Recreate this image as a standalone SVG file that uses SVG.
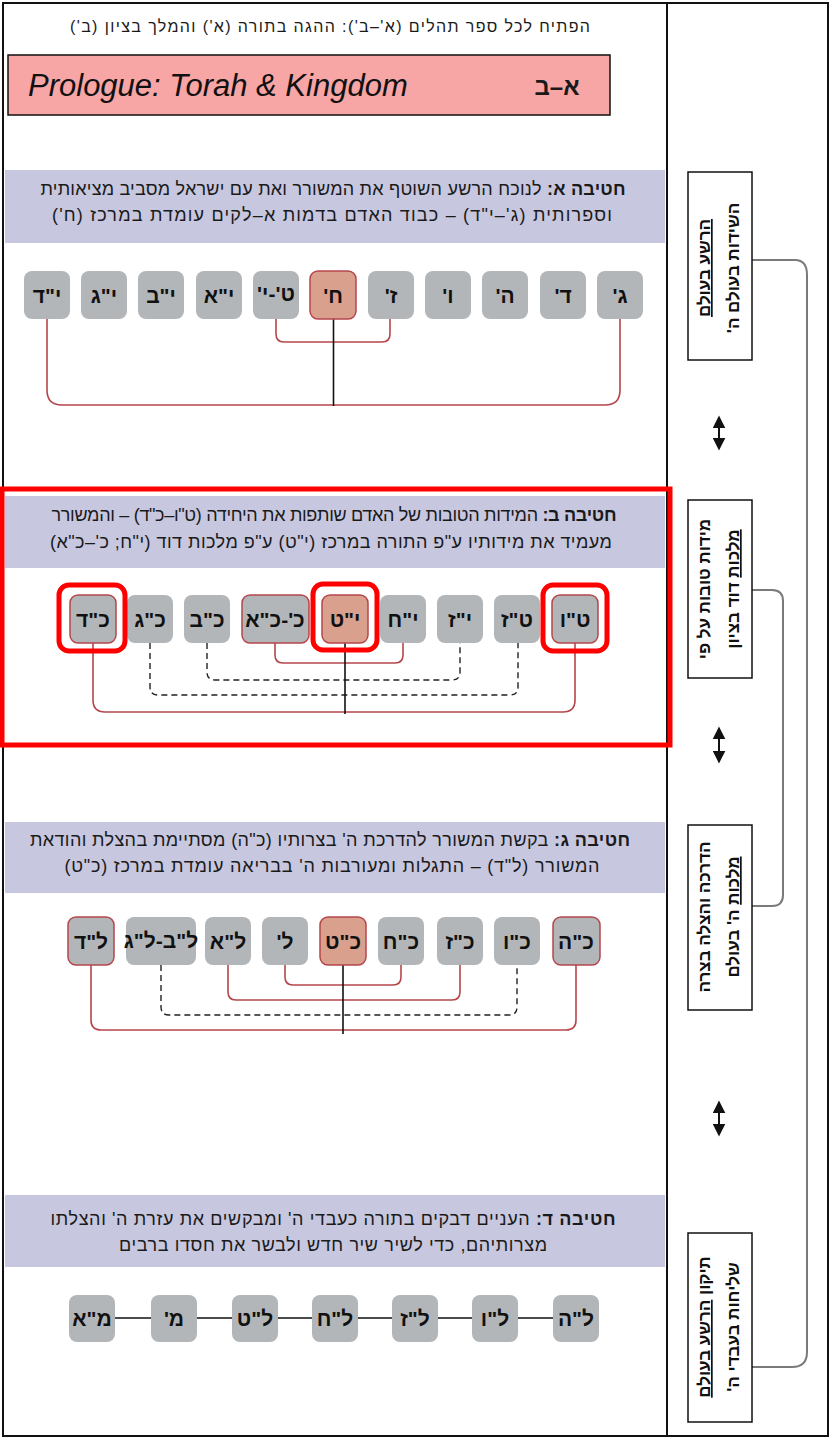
<svg xmlns="http://www.w3.org/2000/svg" width="832" height="1440" viewBox="0 0 832 1440">
<defs>
<style>
.he{font-family:"Liberation Sans","DejaVu Sans",sans-serif;direction:rtl;text-anchor:middle;fill:#1a1a1a}
.hd{font-size:18px}
.nd rect{fill:#b3b6b9;rx:8px}
.nd text{font-family:"Liberation Sans","DejaVu Sans",sans-serif;font-weight:bold;font-size:21px;text-anchor:middle;direction:rtl;fill:#111}
.hl rect{fill:#d8a08d;stroke:#b5464b;stroke-width:1.5}
.rs rect{stroke:#b5464b;stroke-width:1.5}
.band{fill:#c7c7df}
.red{fill:none;stroke:#b5464b;stroke-width:1.6}
.dash{fill:none;stroke:#222;stroke-width:1.4;stroke-dasharray:6 4}
.blk{fill:none;stroke:#111;stroke-width:1.6}
.gry{fill:none;stroke:#7a7a7a;stroke-width:2}
.mark{fill:none;stroke:#ff0000;stroke-width:5}
.side rect{fill:#fff;stroke:#111;stroke-width:1.5}
.side text{font-family:"Liberation Sans","DejaVu Sans",sans-serif;font-weight:bold;font-size:17px;text-anchor:middle;direction:rtl;fill:#111}
.dbl{stroke:#111;stroke-width:2}
</style>
<marker id="ah" viewBox="0 0 10 10" refX="8" refY="5" markerWidth="6.5" markerHeight="6.5" orient="auto-start-reverse">
<path d="M0,0 L10,5 L0,10 z" fill="#111"/>
</marker>
</defs>
<rect x="0" y="0" width="832" height="1440" fill="#fff"/>
<rect x="3" y="3" width="825" height="1433" fill="none" stroke="#111" stroke-width="2"/>
<line x1="667" y1="3" x2="667" y2="1436" stroke="#111" stroke-width="2"/>

<g id="header">
<text class="he" x="330" y="32" font-size="16" textLength="520" lengthAdjust="spacing">הפתיח לכל ספר תהלים (א'–ב'): ההגה בתורה (א') והמלך בציון (ב')</text>
</g>
<g id="prologue">
<rect x="8" y="55" width="602" height="60" fill="#f8a5a5" stroke="#111" stroke-width="1.5"/>
<text x="28" y="96" font-family="Liberation Sans, Arial, sans-serif" font-style="italic" font-size="31" fill="#111">Prologue: Torah &amp; Kingdom</text>
<text class="he" x="557" y="95" font-size="24" font-weight="bold" fill="#3a1010">א–ב</text>
</g>

<!-- Section A -->
<g id="sectionA-header">
<rect class="band" x="5" y="170" width="660" height="73"/>
<text class="he hd" x="333" y="195" textLength="585" lengthAdjust="spacing"><tspan font-weight="bold">חטיבה א:</tspan> לנוכח הרשע השוטף את המשורר ואת עם ישראל מסביב מציאותית</text>
<text class="he hd" x="332" y="221" textLength="560" lengthAdjust="spacing">וספרותית (ג'–י"ד) – כבוד האדם בדמות א–לקים עומדת במרכז (ח')</text>
</g>
<g id="A-connectors">
<path class="red" d="M276,319 V334 Q276,342 284,342 H382 Q390,342 390,334 V319"/>
<path class="red" d="M47,319 V390 Q47,405 62,405 H605 Q620,405 620,390 V319"/>
<path class="blk" d="M333.5,319 V406"/>
</g>
<g id="A-nodes">
<g id="nA3" class="nd"><rect x="597" y="271" width="46" height="48"/><text x="620" y="303">ג'</text></g>
<g id="nA4" class="nd"><rect x="540" y="271" width="46" height="48"/><text x="563" y="303">ד'</text></g>
<g id="nA5" class="nd"><rect x="482" y="271" width="46" height="48"/><text x="505" y="303">ה'</text></g>
<g id="nA6" class="nd"><rect x="425" y="271" width="46" height="48"/><text x="448" y="303">ו'</text></g>
<g id="nA7" class="nd"><rect x="368" y="271" width="46" height="48"/><text x="391" y="303">ז'</text></g>
<g id="nA8" class="nd hl"><rect x="310" y="271" width="46" height="48"/><text x="333" y="303">ח'</text></g>
<g id="nA9" class="nd"><rect x="253" y="271" width="46" height="48"/><text x="276" y="301" font-size="16">ט'-י'</text></g>
<g id="nA11" class="nd"><rect x="196" y="271" width="46" height="48"/><text x="219" y="303">י"א</text></g>
<g id="nA12" class="nd"><rect x="138" y="271" width="46" height="48"/><text x="161" y="303">י"ב</text></g>
<g id="nA13" class="nd"><rect x="81" y="271" width="46" height="48"/><text x="104" y="303">י"ג</text></g>
<g id="nA14" class="nd"><rect x="24" y="271" width="46" height="48"/><text x="47" y="303">י"ד</text></g>
</g>

<!-- Section B -->
<rect class="mark" x="2" y="489" width="668" height="256" stroke-width="4"/>
<g id="sectionB-header">
<rect class="band" x="5" y="496" width="660" height="72"/>
<text class="he hd" x="334" y="521" textLength="565" lengthAdjust="spacing"><tspan font-weight="bold">חטיבה ב:</tspan> המידות הטובות של האדם שותפות את היחידה (ט"ו–כ"ד) – והמשורר</text>
<text class="he hd" x="331" y="548" textLength="562" lengthAdjust="spacing">מעמיד את מידותיו ע"פ התורה במרכז (י"ט) ע"פ מלכות דוד (י"ח; כ'–כ"א)</text>
</g>
<g id="B-connectors">
<path class="red" d="M275,643 V655 Q275,663 283,663 H395 Q403,663 403,655 V643"/>
<path class="dash" d="M207,643 V672 Q207,680 215,680 H452 Q460,680 460,672 V643"/>
<path class="dash" d="M150,643 V687 Q150,695 158,695 H510 Q518,695 518,687 V643"/>
<path class="red" d="M93,643 V700 Q93,712 105,712 H563 Q575,712 575,700 V643"/>
<path class="blk" d="M345,643 V714"/>
</g>
<g id="B-nodes">
<g id="nB15" class="nd rs"><rect x="552" y="595" width="46" height="48"/><text x="575" y="627">ט"ו</text></g>
<g id="nB16" class="nd"><rect x="494" y="595" width="46" height="48"/><text x="517" y="627">ט"ז</text></g>
<g id="nB17" class="nd"><rect x="437" y="595" width="46" height="48"/><text x="460" y="627">י"ז</text></g>
<g id="nB18" class="nd"><rect x="380" y="595" width="46" height="48"/><text x="403" y="627">י"ח</text></g>
<g id="nB19" class="nd hl"><rect x="322" y="595" width="46" height="48"/><text x="345" y="627">י"ט</text></g>
<g id="nB20" class="nd rs"><rect x="242" y="595" width="67" height="48"/><text x="275" y="627" font-size="19">כ'-כ"א</text></g>
<g id="nB22" class="nd"><rect x="184" y="595" width="46" height="48"/><text x="207" y="627">כ"ב</text></g>
<g id="nB23" class="nd"><rect x="127" y="595" width="46" height="48"/><text x="150" y="627">כ"ג</text></g>
<g id="nB24" class="nd rs"><rect x="70" y="595" width="46" height="48"/><text x="93" y="627">כ"ד</text></g>
<rect class="mark" x="59" y="585" width="66" height="66" rx="10"/>
<rect class="mark" x="313" y="584" width="64" height="66" rx="10"/>
<rect class="mark" x="543" y="585" width="64" height="66" rx="10"/>
</g>

<!-- Section C -->
<g id="sectionC-header">
<rect class="band" x="5" y="822" width="660" height="71"/>
<text class="he hd" x="330" y="846" textLength="600" lengthAdjust="spacing"><tspan font-weight="bold">חטיבה ג:</tspan> בקשת המשורר להדרכת ה' בצרותיו (כ"ה) מסתיימת בהצלת והודאת</text>
<text class="he hd" x="332" y="872" textLength="535" lengthAdjust="spacing">המשורר (ל"ד) – התגלות ומעורבות ה' בבריאה עומדת במרכז (כ"ט)</text>
</g>
<g id="C-connectors">
<path class="red" d="M285,965 V977 Q285,985 293,985 H393 Q401,985 401,977 V965"/>
<path class="red" d="M228,965 V992 Q228,1000 236,1000 H452 Q460,1000 460,992 V965"/>
<path class="dash" d="M161,965 V1007 Q161,1015 169,1015 H509 Q517,1015 517,1007 V965"/>
<path class="red" d="M91,965 V1020 Q91,1030 101,1030 H566 Q576,1030 576,1020 V965"/>
<path class="blk" d="M343,965 V1034"/>
</g>
<g id="C-nodes">
<g id="nC25" class="nd rs"><rect x="553" y="917" width="47" height="48"/><text x="576" y="949">כ"ה</text></g>
<g id="nC26" class="nd"><rect x="494" y="917" width="46" height="48"/><text x="517" y="949">כ"ו</text></g>
<g id="nC27" class="nd"><rect x="437" y="917" width="46" height="48"/><text x="460" y="949">כ"ז</text></g>
<g id="nC28" class="nd"><rect x="378" y="917" width="46" height="48"/><text x="401" y="949">כ"ח</text></g>
<g id="nC29" class="nd hl"><rect x="320" y="917" width="46" height="48"/><text x="343" y="949">כ"ט</text></g>
<g id="nC30" class="nd"><rect x="262" y="917" width="46" height="48"/><text x="285" y="949">ל'</text></g>
<g id="nC31" class="nd"><rect x="205" y="917" width="46" height="48"/><text x="228" y="949">ל"א</text></g>
<g id="nC32" class="nd"><rect x="126" y="917" width="70" height="48"/><text x="161" y="948" font-size="18">ל"ב-ל"ג</text></g>
<g id="nC34" class="nd rs"><rect x="68" y="917" width="46" height="48"/><text x="91" y="949">ל"ד</text></g>
</g>

<!-- Section D -->
<g id="sectionD-header">
<rect class="band" x="5" y="1195" width="660" height="72"/>
<text class="he hd" x="333" y="1225" textLength="565" lengthAdjust="spacing"><tspan font-weight="bold">חטיבה ד:</tspan> העניים דבקים בתורה כעבדי ה' ומבקשים את עזרת ה' והצלתו</text>
<text class="he hd" x="333" y="1251" textLength="428" lengthAdjust="spacing">מצרותיהם, כדי לשיר שיר חדש ולבשר את חסדו ברבים</text>
</g>
<g id="D-connectors">
<path class="blk" d="M115,1318 H151 M197,1318 H232 M278,1318 H312 M358,1318 H392 M438,1318 H472 M518,1318 H553"/>
</g>
<g id="D-nodes">
<g id="nD35" class="nd"><rect x="553" y="1295" width="46" height="47"/><text x="576" y="1326">ל"ה</text></g>
<g id="nD36" class="nd"><rect x="472" y="1295" width="46" height="47"/><text x="495" y="1326">ל"ו</text></g>
<g id="nD37" class="nd"><rect x="392" y="1295" width="46" height="47"/><text x="415" y="1326">ל"ז</text></g>
<g id="nD38" class="nd"><rect x="312" y="1295" width="46" height="47"/><text x="335" y="1326">ל"ח</text></g>
<g id="nD39" class="nd"><rect x="232" y="1295" width="46" height="47"/><text x="255" y="1326">ל"ט</text></g>
<g id="nD40" class="nd"><rect x="151" y="1295" width="46" height="47"/><text x="174" y="1326">מ'</text></g>
<g id="nD41" class="nd"><rect x="69" y="1295" width="46" height="47"/><text x="92" y="1326">מ"א</text></g>
</g>

<!-- Right column -->
<g id="side-connectors">
<path class="gry" d="M752,260 H795 Q807,260 807,275 V1352 Q807,1367 792,1367 H752"/>
<path class="gry" d="M752,590 H772 Q783,590 783,601 V895 Q783,906 772,906 H752"/>
<line class="dbl" x1="719" y1="418" x2="719" y2="448" marker-start="url(#ah)" marker-end="url(#ah)"/>
<line class="dbl" x1="719" y1="729" x2="719" y2="761" marker-start="url(#ah)" marker-end="url(#ah)"/>
<line class="dbl" x1="719" y1="1103" x2="719" y2="1134" marker-start="url(#ah)" marker-end="url(#ah)"/>
</g>
<g id="side1" class="side">
<rect x="688" y="172" width="64" height="188"/>
<g transform="translate(720,268) rotate(-90)">
<text x="0" y="-10" text-decoration="underline">הרשע בעולם</text>
<text x="0" y="19">השידות בעולם ה'</text>
</g>
</g>
<g id="side2" class="side">
<rect x="688" y="500" width="64" height="178"/>
<g transform="translate(720,589) rotate(-90)">
<text x="0" y="-10">מידות טובות על פי</text>
<text x="0" y="19"><tspan text-decoration="underline">מלכות</tspan> דוד בציון</text>
</g>
</g>
<g id="side3" class="side">
<rect x="688" y="825" width="64" height="185"/>
<g transform="translate(720,917) rotate(-90)">
<text x="0" y="-10">הדרכה והצלה בצרה</text>
<text x="0" y="19"><tspan text-decoration="underline">מלכות</tspan> ה' בעולם</text>
</g>
</g>
<g id="side4" class="side">
<rect x="688" y="1233" width="64" height="189"/>
<g transform="translate(720,1327) rotate(-90)">
<text x="0" y="-10">תיקון <tspan text-decoration="underline">הרשע בעולם</tspan></text>
<text x="0" y="19">שליחות בעבדי ה'</text>
</g>
</g>
</svg>
